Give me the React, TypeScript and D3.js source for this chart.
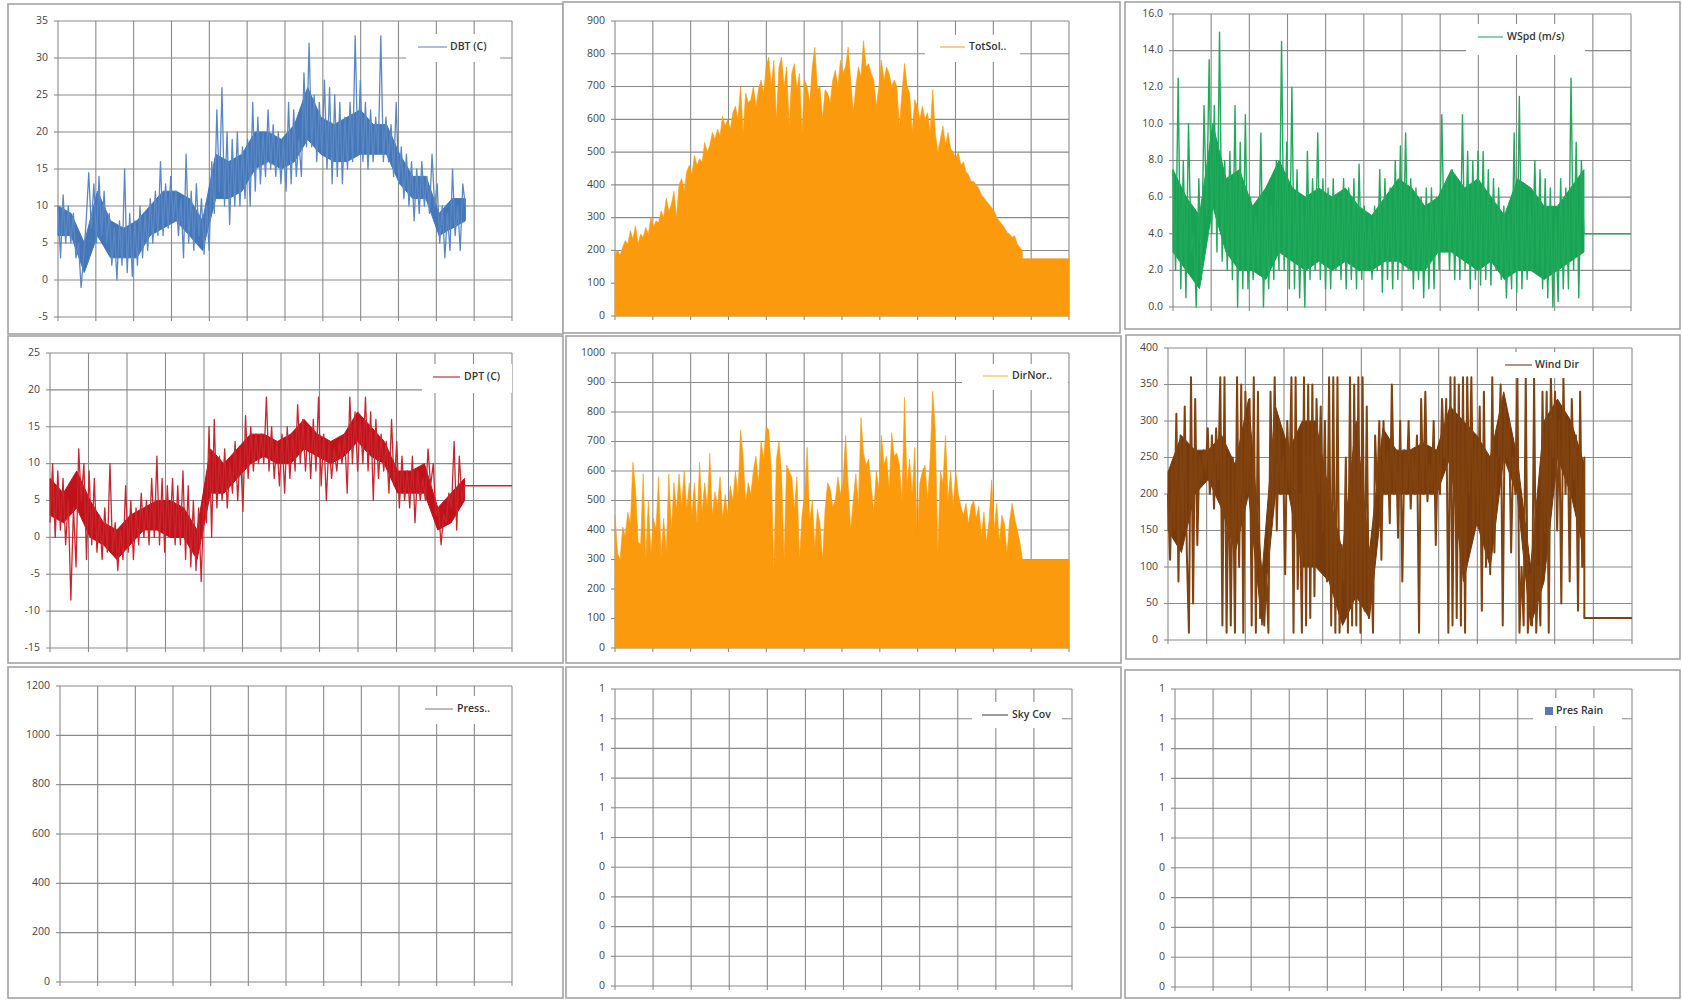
import React from "react";
import * as d3 from "d3";

// ---------- axis / time base ----------
const HOURS = 8760;
const DATA_END = 7860;
const monthTicks = [0, 730, 1460, 2190, 2920, 3650, 4380, 5110, 5840, 6570, 7300, 8030, 8760];

// ---------- tick values ----------
const dbtTicks = [-5, 0, 5, 10, 15, 20, 25, 30, 35];
const totSolTicks = [0, 100, 200, 300, 400, 500, 600, 700, 800, 900];
const wspdTicks = [0, 2, 4, 6, 8, 10, 12, 14, 16];
const dptTicks = [-15, -10, -5, 0, 5, 10, 15, 20, 25];
const dirNorTicks = [0, 100, 200, 300, 400, 500, 600, 700, 800, 900, 1000];
const windDirTicks = [0, 50, 100, 150, 200, 250, 300, 350, 400];
const pressTicks = [0, 200, 400, 600, 800, 1000, 1200];
const fracTicks = [0, 0.1, 0.2, 0.3, 0.4, 0.5, 0.6, 0.7, 0.8, 0.9, 1];
const fracTickLabels = ["0", "0", "0", "0", "0", "1", "1", "1", "1", "1", "1"];

// ---------- series values ----------
// spiky hourly traces (extremes, in time order)
const dbt = [
  10, 3, 11.5, 5, 10, 5, 9, 3, 5, -1,
  3, 8, 14.5, 7, 13, 5, 14, 6, 12, 5,
  9, 2, 7, 0, 8, 2, 15, 1, 9, 0.5,
  8, 2, 10, 3, 9, 4, 11, 5, 12, 6,
  16, 6, 13, 7, 14, 8, 12, 6, 11, 3,
  17, 5, 12, 4, 13, 6, 11, 3.5, 10, 4,
  16, 9, 23, 12, 26, 10, 20, 7.5, 19, 10,
  20, 10, 18, 11, 19, 10, 24, 12, 22, 13,
  20, 14, 23, 15, 21, 14, 20, 13, 19, 12,
  24, 13, 23, 14, 19, 14, 28, 18, 32, 18,
  25, 16, 24, 17, 27, 15, 26, 13, 25, 14,
  24, 13, 22, 15, 24, 16, 33, 17, 27, 16,
  24, 15, 23, 16, 22, 17, 33, 16, 22, 16,
  21, 14, 24, 13, 18, 11, 17, 10, 16, 8,
  15, 9, 16, 10, 14, 9, 17, 10, 13, 5,
  10, 3, 9, 4, 15, 6, 10, 4, 13, 10,
];
// dense core band of the trace
const dbtCoreLow = [6, 6, 1, 6, 3, 3, 3, 6, 7, 8, 6, 4, 11, 11, 12, 15, 16, 15, 16, 19, 17, 16, 16, 17, 17, 17, 13, 11, 11, 6, 7, 8];
const dbtCoreHigh = [10, 9, 5, 12, 8, 7, 8, 10, 12, 12, 11, 8, 17, 16, 17, 20, 20, 19, 21, 26, 22, 21, 22, 23, 21, 21, 17, 14, 14, 9, 11, 11];

const totSol = [
  190, 200, 185, 210, 230, 220, 260, 235, 275, 220,
  250, 240, 270, 250, 300, 270, 290, 285, 320, 300,
  360, 320, 340, 380, 300, 400, 420, 380, 440, 460,
  430, 490, 460, 480, 470, 530, 500, 520, 560, 540,
  570, 550, 610, 580, 600, 570, 620, 640, 600, 700,
  560, 680, 650, 660, 700, 640, 690, 720, 680, 760,
  790, 700, 780, 600, 760, 790, 700, 760, 580, 740,
  770, 690, 740, 560, 720, 700, 650, 760, 820, 690,
  700, 600, 690, 680, 650, 720, 750, 700, 780, 740,
  760, 820, 720, 620, 700, 760, 730, 840, 760, 770,
  740, 720, 640, 700, 780, 720, 760, 740, 700, 720,
  700, 580, 680, 770, 700, 680, 560, 660, 640, 600,
  640, 600, 620, 560, 690, 560, 500, 540, 580, 520,
  560, 510, 500, 480, 500, 460, 470, 440, 430, 410,
  410, 400, 390, 370, 360, 350, 340, 330, 320, 300,
  290, 280, 270, 255, 250, 240, 245, 220, 210, 200,
];
const totSolTail = 175;

const wspd = [
  7.5, 2, 12.5, 1, 8, 0.5, 10, 3, 4, 0,
  7, 1.5, 11, 5, 13.5, 4, 11, 3, 15, 2.5,
  8, 2, 8.5, 1.5, 11, 0, 9, 1, 10.5, 1,
  6, 1.5, 5, 2, 9.5, 0, 6, 1, 5.5, 1.5,
  8, 2, 14.5, 2, 9, 1, 12, 1, 7.5, 0.5,
  6, 0, 8.5, 1.5, 7, 2, 9.5, 1.5, 7, 1,
  6.5, 1, 7, 2, 6, 1.5, 7, 1, 6.5, 1.5,
  7, 1, 7.8, 1.5, 5.5, 2, 5, 1.5, 5.5, 2,
  7.5, 0.8, 7, 1.5, 6.5, 1, 8, 1.5, 8.8, 2,
  9.5, 2, 7, 1, 6.5, 1.5, 6, 0.5, 6.5, 1,
  6.5, 1, 6, 2, 10.5, 3, 7, 2, 7.5, 1.5,
  7, 1.5, 10.5, 2, 8.5, 1, 8, 1.5, 8.5, 1.2,
  8.5, 1.5, 7.5, 1.2, 7, 2, 6.5, 1.5, 5.5, 0.5,
  5, 1, 9.5, 0.8, 11.5, 1, 6.5, 1.5, 6, 2,
  8, 2, 7.5, 1, 7, 0.5, 6.5, 0, 5, 0.3,
  7, 1, 6.5, 1, 12.5, 2, 9, 0.5, 8, 4,
];
const wspdCoreLow = [3, 2, 1, 5.5, 3, 2, 2, 1.5, 3, 2.5, 2, 2.5, 2, 2.5, 2, 2, 2.5, 2.5, 2, 2, 3, 3, 2.5, 2, 2.5, 1.5, 2, 2, 1.5, 2, 2.5, 3];
const wspdCoreHigh = [7.5, 6, 5, 10, 7, 7.5, 5.5, 6.5, 8, 6.5, 6, 6.5, 6, 6.5, 5.5, 5, 6, 7, 6.5, 5.5, 6, 7.5, 6.5, 7, 6, 5, 7, 6.5, 5.5, 5.5, 6.5, 7.5];
const wspdTail = 4;

const dpt = [
  2, 10, 0, 9, 1, 8, -1, 5, -8.5, 4,
  -4, 12, 5, 10, -3, 9, -1, 8, -2, 3,
  -3, 4, -2, 10, -2, 2, -4.5, 1, -3, 7,
  -2, 5, -3, 4, -1, 6, 0, 5, -1, 8,
  0, 11, -1, 8, -2, 7, 0, 8, -1, 7,
  -1, 9, -3, 7, -4, 5, -4.5, 4, -6, 5,
  2, 15, 0, 16, 4, 11, 5, 12, 4, 10,
  6, 13, 5, 12, 3.5, 16.5, 8, 15, 9, 14,
  10, 14, 10, 19, 9, 15, 8, 13, 7, 14,
  6, 15, 8, 14, 9, 18, 10, 16, 9, 15,
  8, 16, 9, 19, 7, 14, 5, 13, 8, 12,
  9, 13, 10, 14, 6, 19, 10, 17, 9, 16,
  10, 19, 9, 17, 5, 16, 8, 14, 9, 13,
  6, 16, 7, 13, 4, 11, 5, 9, 4, 11,
  2, 9, 5, 8, 5, 12, 7, 10, 3, 4,
  -1, 3, 2, 6, 4, 13, 1, 11, 5, 7,
];
const dptCoreLow = [3, 2, 4, 0, -1, -3, -1, 1, 1, 0, 0, -3, 6, 6, 8, 10, 11, 10, 10, 12, 11, 10, 11, 13, 11, 10, 6, 6, 6, 1, 2, 5];
const dptCoreHigh = [8, 6, 9, 5, 2, 1, 3, 4, 5, 5, 4, 1, 12, 10, 12, 14, 14, 13, 14, 16, 14, 13, 14, 17, 15, 13, 9, 9, 10, 4, 6, 8];
const dptTail = 7;

const dirNor = [
  450, 320, 300, 410, 380, 460, 420, 630, 540, 360,
  350, 590, 300, 500, 320, 440, 400, 580, 310, 440,
  320, 590, 400, 560, 470, 590, 480, 600, 470, 560,
  450, 560, 420, 630, 460, 560, 480, 660, 450, 530,
  480, 580, 440, 520, 450, 550, 500, 600, 520, 740,
  650, 490, 560, 520, 600, 650, 560, 700, 640, 750,
  740, 600, 260, 640, 700, 590, 300, 620, 600, 580,
  470, 580, 300, 450, 520, 680, 430, 500, 340, 470,
  420, 300, 470, 560, 540, 480, 500, 580, 520, 560,
  720, 550, 400, 500, 590, 480, 780, 660, 620, 640,
  550, 460, 600, 540, 720, 620, 650, 540, 730, 650,
  660, 620, 500, 850, 550, 640, 520, 680, 370, 560,
  600, 620, 500, 640, 870, 740, 320, 600, 560, 720,
  500, 600, 480, 600, 520, 480, 450, 490, 420, 480,
  500, 440, 480, 380, 460, 360, 430, 570, 400, 490,
  360, 450, 420, 320, 430, 490, 440, 400, 360, 300,
];
const dirNorTail = 300;

const windDir = [
  200, 110, 240, 150, 310, 80, 280, 150, 320, 120,
  10, 360, 50, 330, 130, 250, 220, 260, 230, 290,
  200, 280, 180, 290, 220, 360, 20, 360, 10, 250,
  20, 250, 10, 360, 100, 350, 10, 340, 200, 330,
  20, 360, 10, 340, 30, 100, 20, 90, 10, 340,
  180, 360, 150, 300, 200, 250, 90, 300, 210, 360,
  10, 360, 70, 200, 10, 360, 20, 350, 30, 350,
  60, 330, 200, 320, 150, 300, 80, 360, 20, 360,
  10, 360, 10, 130, 80, 250, 10, 360, 20, 350,
  20, 360, 10, 360, 40, 320, 30, 130, 10, 280,
  200, 300, 110, 300, 200, 260, 160, 350, 200, 260,
  140, 300, 80, 260, 200, 300, 180, 260, 200, 280,
  10, 330, 200, 340, 190, 240, 200, 300, 130, 260,
  200, 330, 250, 330, 10, 360, 20, 360, 30, 350,
  20, 360, 10, 360, 200, 360, 150, 280, 160, 320,
  40, 340, 100, 250, 90, 360, 120, 250, 250, 350,
  20, 320, 250, 300, 120, 250, 200, 360, 10, 100,
  20, 360, 10, 90, 20, 360, 10, 100, 20, 340,
  150, 340, 10, 360, 250, 340, 150, 300, 50, 360,
  200, 300, 80, 330, 220, 280, 40, 340, 100, 250,
];
const windDirCoreLow = [150, 120, 200, 220, 180, 120, 200, 20, 200, 200, 100, 100, 80, 20, 60, 30, 200, 200, 200, 200, 200, 250, 80, 160, 100, 250, 200, 20, 80, 250, 200, 120];
const windDirCoreHigh = [230, 280, 260, 260, 280, 240, 330, 90, 320, 260, 300, 300, 200, 120, 300, 120, 290, 260, 260, 270, 260, 320, 300, 280, 250, 340, 250, 100, 300, 330, 300, 240];
const windDirTail = 30;

// ---------- panel setup ----------
type Legend = {
  text: string;
  box: [number, number, number, number];
  lx0: number;
  lx1: number;
  tx: number;
  y: number;
  marker: "line" | "square";
  markerColor: string;
};
type PanelCfg = {
  frame: [number, number, number, number];
  plot: [number, number, number, number];
  yDomain: [number, number];
  yTicks: number[];
  yLabels: string[];
  series: number[] | null;
  coreLow?: number[];
  coreHigh?: number[];
  tail: number | null;
  kind: "line" | "area" | "none";
  color: string;
  coreColor?: string;
  width?: number;
  legend: Legend;
};

const fInt = (v: number) => String(v);
const f1 = d3.format(".1f");

const panels: PanelCfg[] = [
  {
    frame: [8, 4, 563, 334], plot: [58, 21, 512, 317], yDomain: [-5, 35],
    yTicks: dbtTicks, yLabels: dbtTicks.map(fInt), series: dbt, coreLow: dbtCoreLow, coreHigh: dbtCoreHigh, tail: null,
    kind: "line", color: "#5a88c4", coreColor: "#4576b8", width: 1.3,
    legend: { text: "DBT (C)", box: [406, 34, 500, 62], lx0: 418, lx1: 447, tx: 450, y: 47, marker: "line", markerColor: "#7c9cc8" },
  },
  {
    frame: [563, 2, 1120, 333], plot: [615, 21, 1069, 316], yDomain: [0, 900],
    yTicks: totSolTicks, yLabels: totSolTicks.map(fInt), series: totSol, tail: totSolTail,
    kind: "area", color: "#fb9a0c",
    legend: { text: "TotSol..", box: [925, 35, 1020, 62], lx0: 940, lx1: 965, tx: 969, y: 47, marker: "line", markerColor: "#f7b04a" },
  },
  {
    frame: [1125, 2, 1680, 329], plot: [1173, 14, 1631, 307], yDomain: [0, 16],
    yTicks: wspdTicks, yLabels: wspdTicks.map(f1), series: wspd, coreLow: wspdCoreLow, coreHigh: wspdCoreHigh, tail: wspdTail,
    kind: "line", color: "#22aa5c", coreColor: "#17a353", width: 1.4,
    legend: { text: "WSpd (m/s)", box: [1466, 24, 1585, 55], lx0: 1478, lx1: 1503, tx: 1507, y: 37, marker: "line", markerColor: "#4cb878" },
  },
  {
    frame: [8, 336, 563, 663], plot: [50, 353, 512, 648], yDomain: [-15, 25],
    yTicks: dptTicks, yLabels: dptTicks.map(fInt), series: dpt, coreLow: dptCoreLow, coreHigh: dptCoreHigh, tail: dptTail,
    kind: "line", color: "#c8262c", coreColor: "#c0121a", width: 1.3,
    legend: { text: "DPT (C)", box: [422, 364, 512, 393], lx0: 433, lx1: 460, tx: 464, y: 377, marker: "line", markerColor: "#c04848" },
  },
  {
    frame: [566, 336, 1121, 663], plot: [615, 353, 1069, 648], yDomain: [0, 1000],
    yTicks: dirNorTicks, yLabels: dirNorTicks.map(fInt), series: dirNor, tail: dirNorTail,
    kind: "area", color: "#fb9a0c",
    legend: { text: "DirNor..", box: [962, 364, 1068, 390], lx0: 983, lx1: 1008, tx: 1012, y: 376, marker: "line", markerColor: "#f7c060" },
  },
  {
    frame: [1126, 335, 1680, 659], plot: [1168, 348, 1632, 640], yDomain: [0, 400],
    yTicks: windDirTicks, yLabels: windDirTicks.map(fInt), series: windDir, coreLow: windDirCoreLow, coreHigh: windDirCoreHigh, tail: windDirTail,
    kind: "line", color: "#80420f", coreColor: "#763a0c", width: 2,
    legend: { text: "Wind Dir", box: [1495, 352, 1590, 378], lx0: 1505, lx1: 1532, tx: 1535, y: 365, marker: "line", markerColor: "#8a5a30" },
  },
  {
    frame: [8, 667, 563, 998], plot: [60, 686, 512, 982], yDomain: [0, 1200],
    yTicks: pressTicks, yLabels: pressTicks.map(fInt), series: null, tail: null,
    kind: "none", color: "#888",
    legend: { text: "Press..", box: [415, 696, 506, 724], lx0: 425, lx1: 453, tx: 457, y: 709, marker: "line", markerColor: "#999" },
  },
  {
    frame: [566, 667, 1121, 998], plot: [615, 689, 1072, 986], yDomain: [0, 1],
    yTicks: fracTicks, yLabels: fracTickLabels, series: null, tail: null,
    kind: "none", color: "#666",
    legend: { text: "Sky Cov", box: [972, 702, 1062, 728], lx0: 982, lx1: 1008, tx: 1012, y: 715, marker: "line", markerColor: "#666" },
  },
  {
    frame: [1125, 670, 1680, 998], plot: [1175, 689, 1632, 987], yDomain: [0, 1],
    yTicks: fracTicks, yLabels: fracTickLabels, series: null, tail: null,
    kind: "none", color: "#5b7cb0",
    legend: { text: "Pres Rain", box: [1533, 698, 1622, 726], lx0: 1545, lx1: 1553, tx: 1556, y: 711, marker: "square", markerColor: "#5a78b0" },
  },
];

const GRID = "#8a8a8a";
const FONT = "'Open Sans', Lato, 'Liberation Sans', sans-serif";

function Panel({ cfg }: { cfg: PanelCfg }) {
  const [L, T, R, B] = cfg.plot;
  const x = d3.scaleLinear().domain([0, HOURS]).range([L, R]);
  const y = d3.scaleLinear().domain(cfg.yDomain).range([B, T]);
  const [fx0, fy0, fx1, fy1] = cfg.frame;

  let path: string | null = null;
  let core: string | null = null;
  if (cfg.series) {
    const n = cfg.series.length;
    const idx = d3.scaleLinear().domain([0, n - 1]).range([0, DATA_END]);
    const pts: [number, number][] = cfg.series.map((v, i) => [idx(i), v]);
    if (cfg.tail != null) {
      pts.push([DATA_END, cfg.tail]);
      pts.push([HOURS, cfg.tail]);
    }
    if (cfg.kind === "area") {
      path = d3.area<[number, number]>()
        .x((d) => x(d[0]))
        .y0(y(0))
        .y1((d) => y(d[1]))(pts);
    } else {
      path = d3.line<[number, number]>()
        .x((d) => x(d[0]))
        .y((d) => y(d[1]))(pts);
    }
    if (cfg.coreLow && cfg.coreHigh) {
      const lo = cfg.coreLow;
      const hi = cfg.coreHigh;
      const cIdx = d3.scaleLinear().domain([0, lo.length - 1]).range([0, DATA_END]);
      core = d3.area<number>()
        .x((_, i) => x(cIdx(i)))
        .y0((_, i) => y(lo[i]))
        .y1((_, i) => y(hi[i]))(lo);
    }
  }

  const lg = cfg.legend;
  return (
    <g>
      <rect x={fx0} y={fy0} width={fx1 - fx0} height={fy1 - fy0} fill="#fff" stroke="#a3a3a3" strokeWidth={1.6} />
      {cfg.yTicks.map((t, i) => (
        <g key={"h" + i}>
          <line x1={L} x2={R} y1={y(t)} y2={y(t)} stroke={GRID} strokeWidth={1.1} />
          <line x1={L - 4} x2={L} y1={y(t)} y2={y(t)} stroke={GRID} strokeWidth={1.1} />
          <text x={L - 10} y={y(t)} textAnchor="end" dominantBaseline="middle" fontSize={10.5} fill="#444" fontFamily={FONT}>
            {cfg.yLabels[i]}
          </text>
        </g>
      ))}
      {monthTicks.map((m, i) => (
        <line key={"v" + i} x1={x(m)} x2={x(m)} y1={T} y2={B + 4} stroke={GRID} strokeWidth={1.1} />
      ))}
      {path && cfg.kind === "area" && <path d={path} fill={cfg.color} stroke={cfg.color} strokeWidth={0.6} />}
      {core && <path d={core} fill={cfg.coreColor ?? cfg.color} stroke={cfg.coreColor ?? cfg.color} strokeWidth={1} strokeLinejoin="round" />}
      {path && cfg.kind === "line" && (
        <path d={path} fill="none" stroke={cfg.color} strokeWidth={cfg.width ?? 1.4} strokeLinejoin="round" />
      )}
      <rect x={lg.box[0]} y={lg.box[1]} width={lg.box[2] - lg.box[0]} height={lg.box[3] - lg.box[1]} fill="#fff" />
      {lg.marker === "line" ? (
        <line x1={lg.lx0} x2={lg.lx1} y1={lg.y} y2={lg.y} stroke={lg.markerColor} strokeWidth={1.3} />
      ) : (
        <rect x={lg.lx0} y={lg.y - 4} width={lg.lx1 - lg.lx0} height={8} fill={lg.markerColor} />
      )}
      <text x={lg.tx} y={lg.y} dominantBaseline="middle" fontSize={10.5} fontWeight={600} fill="#333" fontFamily={FONT}>
        {lg.text}
      </text>
    </g>
  );
}

export default function App() {
  return (
    <svg width={1682} height={1000} style={{ position: "absolute", left: 0, top: 0, display: "block" }}>
      <rect x={0} y={0} width={1682} height={1000} fill="#fff" />
      {panels.map((p, i) => (
        <Panel key={i} cfg={p} />
      ))}
    </svg>
  );
}
